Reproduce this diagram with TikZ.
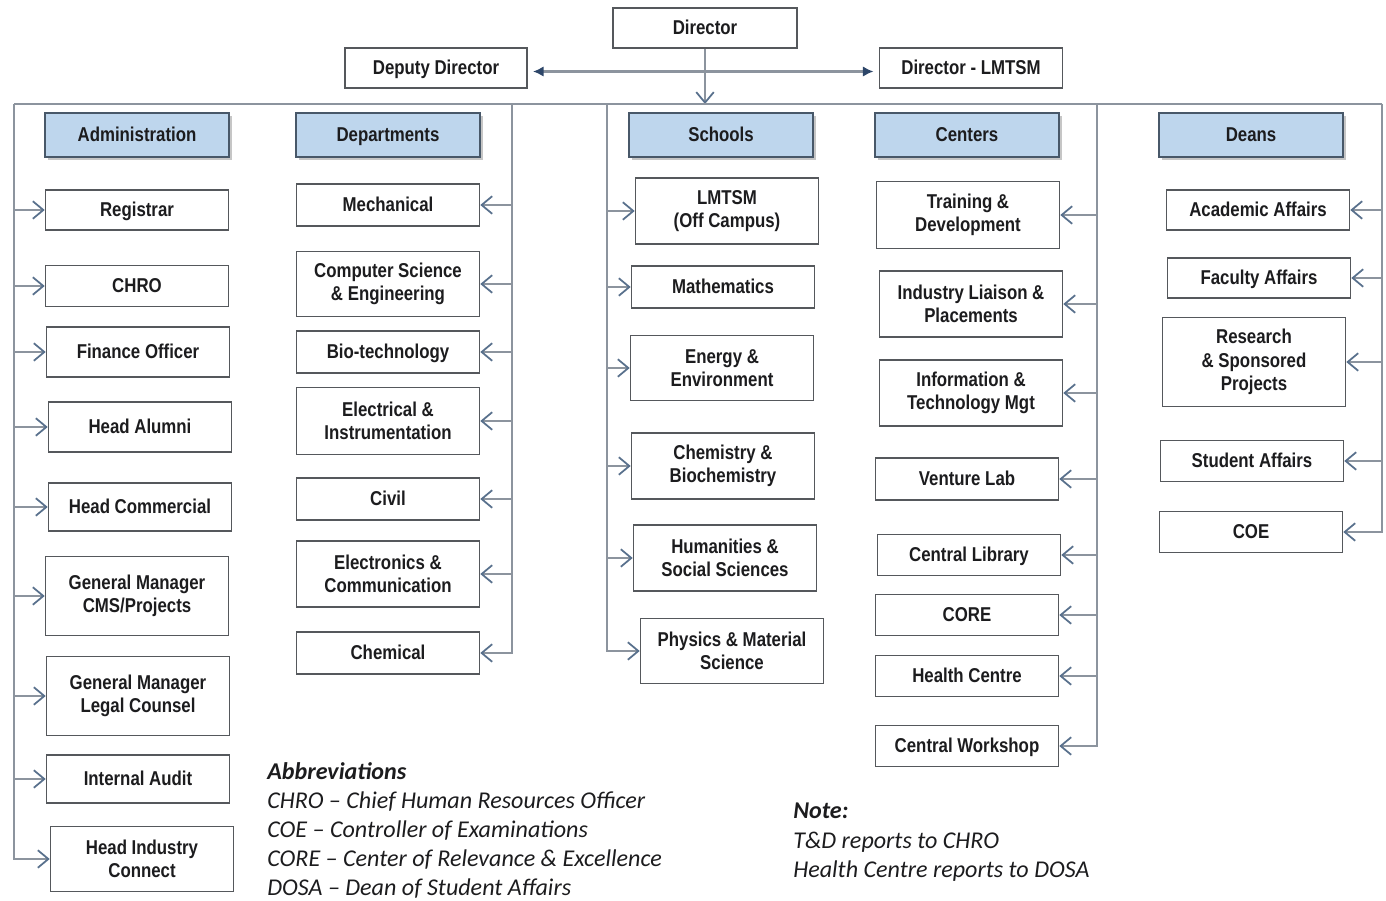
\documentclass[tikz,border=0pt]{standalone}
\usepackage{fontspec}
\setmainfont{Liberation Sans}[FakeStretch=0.84]
\newfontfamily\notefont{Carlito}
\usepackage{tikz}
\usetikzlibrary{positioning}
\usetikzlibrary{arrows.meta}
\usetikzlibrary{shadows}
\definecolor{headblue}{RGB}{190,214,237}
\definecolor{headline}{RGB}{72,88,105}
\definecolor{boxline}{RGB}{85,88,92}
\definecolor{busgray}{RGB}{140,148,158}
\definecolor{tipblue}{RGB}{88,112,140}
\definecolor{darktip}{RGB}{45,70,105}
\definecolor{inkblack}{RGB}{28,28,30}

\begin{document}
\begin{tikzpicture}[x=0.02cm,y=-0.02cm,
                    >={Straight Barb[length=6pt,width=10pt,line width=1pt,color=tipblue]},
                    tall node/.style={rectangle,draw=boxline,line width=0.9pt,fill=white,
                            text=inkblack,font=\bfseries\fontsize{11.4}{13.4}\selectfont,
                            align=center,inner sep=1pt,minimum width=3.66cm,minimum height=0.82cm},
                    unit node/.style={tall node,text height=1.7ex,text depth=0.25ex},
                    head node/.style={unit node,draw=headline,fill=headblue,
                            minimum width=3.68cm,minimum height=0.88cm,
                            drop shadow={shadow xshift=1.6pt,shadow yshift=-1.6pt,opacity=0.45}},
                    bus/.style={draw=busgray,line width=1.2pt},
                    branch/.style={bus,->},
                    note text/.style={inner sep=0pt,align=left,text=inkblack,
                            font=\notefont\itshape\fontsize{13.7}{16.6}\selectfont}]
    \useasboundingbox (0,0) rectangle (1386,901);

    % top of the chart
    \node[unit node,minimum width=3.68cm,minimum height=0.8cm] (director) at (705,28) {Director};
    \node[unit node,minimum width=3.64cm,minimum height=0.8cm] (deputy) at (436,68) {Deputy Director};
    \node[unit node,minimum width=3.66cm,minimum height=0.8cm] (lmtsm) at (971,68) {Director - LMTSM};

    \coordinate (adminbus) at (14,104);
    \coordinate (deptbus) at (512,104);
    \coordinate (schoolbus) at (607,104);
    \coordinate (centerbus) at (1097,104);
    \coordinate (deanbus) at (1382,104);

    % headings
    \node[head node] (admin) at (137,135) {Administration};
    \node[head node] (dept) at (388,135) {Departments};
    \node[head node] (schools) at (721,135) {Schools};
    \node[head node] (centers) at (967,135) {Centers};
    \node[head node] (deans) at (1251,135) {Deans};

    % administration
    \node[unit node,minimum height=0.8cm] (registrar) at (137,210) {Registrar};
    \node[unit node] (chro) at (137,286) {CHRO};
    \node[unit node,minimum height=1.0cm] (finance) at (138,352) {Finance Officer};
    \node[unit node,minimum height=1.0cm] (alumni) at (140,427) {Head Alumni};
    \node[unit node,minimum height=0.96cm] (commercial) at (140,507) {Head Commercial};
    \node[tall node,minimum height=1.58cm] (gmcms) at (137,596) {General Manager\\CMS/Projects};
    \node[tall node,minimum height=1.58cm] (gmlegal) at (138,696) {General Manager\\Legal Counsel};
    \node[unit node,minimum height=0.96cm] (audit) at (138,779) {Internal Audit};
    \node[tall node,minimum height=1.3cm] (industryconnect) at (142,859) {Head Industry\\Connect};

    % departments
    \node[unit node,minimum height=0.84cm] (mech) at (388,205) {Mechanical};
    \node[tall node,minimum height=1.3cm] (cse) at (388,284) {Computer Science\\\& Engineering};
    \node[unit node,minimum height=0.84cm] (biotech) at (388,352) {Bio-technology};
    \node[tall node,minimum height=1.34cm] (eie) at (388,421) {Electrical \&\\Instrumentation};
    \node[unit node,minimum height=0.84cm] (civil) at (388,499) {Civil};
    \node[tall node,minimum height=1.32cm] (ece) at (388,574) {Electronics \&\\Communication};
    \node[unit node,minimum height=0.84cm] (chemical) at (388,653) {Chemical};

    % schools
    \node[tall node,minimum height=1.32cm] (offcampus) at (727,211) {LMTSM\\(Off Campus)};
    \node[unit node,minimum height=0.84cm] (maths) at (723,287) {Mathematics};
    \node[tall node,minimum height=1.3cm] (energy) at (722,368) {Energy \&\\Environment};
    \node[tall node,minimum height=1.32cm] (chembio) at (723,466) {Chemistry \&\\Biochemistry};
    \node[tall node,minimum height=1.32cm] (humanities) at (725,558) {Humanities \&\\Social Sciences};
    \node[tall node,minimum height=1.3cm] (physics) at (732,651) {Physics \& Material\\Science};

    % centers
    \node[tall node,minimum height=1.34cm] (training) at (968,215) {Training \&\\Development};
    \node[tall node,minimum height=1.32cm] (liaison) at (971,304) {Industry Liaison \&\\Placements};
    \node[tall node,minimum height=1.32cm] (itmgt) at (971,393) {Information \&\\Technology Mgt};
    \node[unit node,minimum height=0.84cm] (venture) at (967,479) {Venture Lab};
    \node[unit node] (library) at (969,555) {Central Library};
    \node[unit node] (core) at (967,615) {CORE};
    \node[unit node] (health) at (967,676) {Health Centre};
    \node[unit node] (workshop) at (967,746) {Central Workshop};

    % deans
    \node[unit node,minimum height=0.8cm] (academic) at (1258,210) {Academic Affairs};
    \node[unit node,minimum height=0.8cm] (faculty) at (1259,278) {Faculty Affairs};
    \node[tall node,minimum height=1.78cm] (research) at (1254,362) {Research\\\& Sponsored\\Projects};
    \node[unit node] (student) at (1252,461) {Student Affairs};
    \node[unit node] (coe) at (1251,532) {COE};

    % director links
    \draw[draw=busgray,line width=1.2pt,
          {Latex[length=6pt,width=6pt,color=darktip]}-{Latex[length=6pt,width=6pt,color=darktip]}]
        ([xshift=3pt,yshift=-2pt]deputy.east) -- ([xshift=-3pt,yshift=-2pt]lmtsm.west);
    \draw[branch] (director.south) -- (director.south |- adminbus);

    % the buses
    \draw[bus] (adminbus) -- (deanbus);
    \draw[branch] (adminbus) |- (industryconnect.west);
    \draw[branch] (deptbus) |- (chemical.east);
    \draw[branch] (schoolbus) |- (physics.west);
    \draw[branch] (centerbus) |- (workshop.east);
    \draw[branch] (deanbus) |- (coe.east);

    \path[every edge/.style=branch]
    (adminbus |- registrar.west) edge (registrar.west)
    (adminbus |- chro.west) edge (chro.west)
    (adminbus |- finance.west) edge (finance.west)
    (adminbus |- alumni.west) edge (alumni.west)
    (adminbus |- commercial.west) edge (commercial.west)
    (adminbus |- gmcms.west) edge (gmcms.west)
    (adminbus |- gmlegal.west) edge (gmlegal.west)
    (adminbus |- audit.west) edge (audit.west)

    (deptbus |- mech.east) edge (mech.east)
    (deptbus |- cse.east) edge (cse.east)
    (deptbus |- biotech.east) edge (biotech.east)
    (deptbus |- eie.east) edge (eie.east)
    (deptbus |- civil.east) edge (civil.east)
    (deptbus |- ece.east) edge (ece.east)

    (schoolbus |- offcampus.west) edge (offcampus.west)
    (schoolbus |- maths.west) edge (maths.west)
    (schoolbus |- energy.west) edge (energy.west)
    (schoolbus |- chembio.west) edge (chembio.west)
    (schoolbus |- humanities.west) edge (humanities.west)

    (centerbus |- training.east) edge (training.east)
    (centerbus |- liaison.east) edge (liaison.east)
    (centerbus |- itmgt.east) edge (itmgt.east)
    (centerbus |- venture.east) edge (venture.east)
    (centerbus |- library.east) edge (library.east)
    (centerbus |- core.east) edge (core.east)
    (centerbus |- health.east) edge (health.east)

    (deanbus |- academic.east) edge (academic.east)
    (deanbus |- faculty.east) edge (faculty.east)
    (deanbus |- research.east) edge (research.east)
    (deanbus |- student.east) edge (student.east)
    ;

    % notes at the foot
    \node[note text,anchor=north west] (abbrev) at (267,762)
        {\textbf{Abbreviations}\\
         CHRO – Chief Human Resources Officer\\
         COE – Controller of Examinations\\
         CORE – Center of Relevance \& Excellence\\
         DOSA – Dean of Student Affairs};
    \node[note text,anchor=north west] (note) at (793,803)
        {\textbf{Note:}\\
         T\&D reports to CHRO\\
         Health Centre reports to DOSA};
\end{tikzpicture}
\end{document}
